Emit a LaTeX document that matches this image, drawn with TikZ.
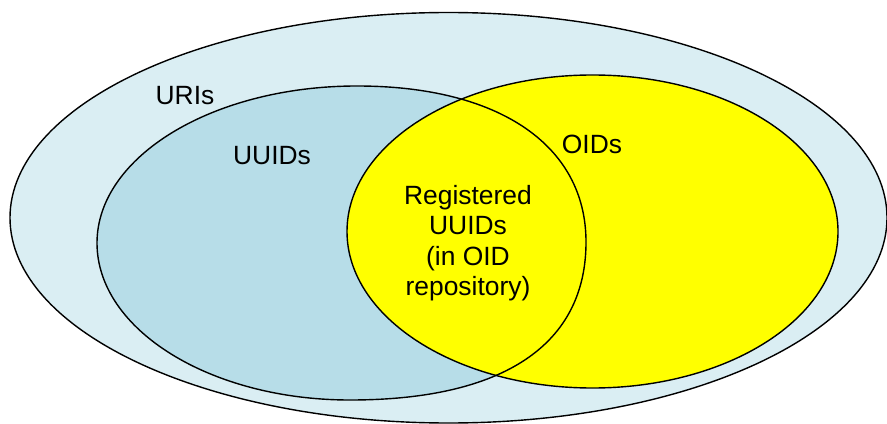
\documentclass[tikz,border=0pt]{standalone}
\usepackage{fontspec}
\setmainfont{Liberation Sans}
\usepackage{tikz}
\definecolor{uriblue}{HTML}{DAEEF3}
\definecolor{uuidblue}{HTML}{B7DDE8}
\definecolor{oidyellow}{HTML}{FFFF00}
\newcommand{\uuidshape}{(97,180) .. controls (97,266.7) and (213.4,337) .. (357,337)
  .. controls (499,337) and (586,277.7) .. (586,181)
  .. controls (586,78.3) and (503.4,23) .. (350,23)
  .. controls (210.3,23) and (97,93.3) .. (97,180) -- cycle}
\tikzset{
  setline/.style={draw=black, line width=0.7pt},
  setlabel/.style={font=\fontsize{13.2}{15.2}\selectfont, inner sep=0pt, align=center},
}

\begin{document}
\begin{tikzpicture}[x=0.5pt, y=0.5pt]
  \useasboundingbox (0,0) rectangle (887,423);

  % fills first, outlines on top
  \fill[uriblue] (448.5,205.25) ellipse [x radius=438.5, y radius=205.25];
  \fill[uuidblue] \uuidshape;
  \fill[oidyellow] (592.5,191.5) ellipse [x radius=245.5, y radius=156.5];

  \draw[setline] (448.5,205.25) ellipse [x radius=438.5, y radius=205.25];
  \draw[setline] \uuidshape;
  \draw[setline] (592.5,191.5) ellipse [x radius=245.5, y radius=156.5];

  \node[setlabel] (uris) at (185,327) {URIs};
  \node[setlabel] (uuids) at (272,267) {UUIDs};
  \node[setlabel] (oids) at (592,279) {OIDs};
  \node[setlabel] (registered) at (468,180) {Registered\\UUIDs\\(in OID\\repository)};
\end{tikzpicture}
\end{document}
